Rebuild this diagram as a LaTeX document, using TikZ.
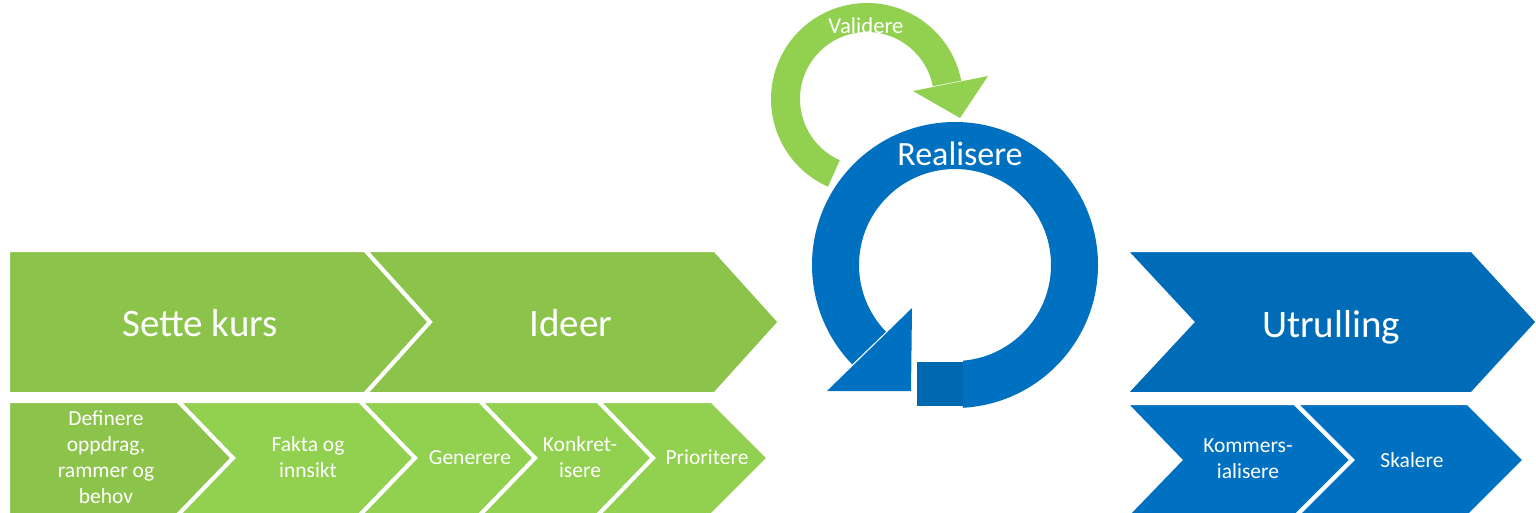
\documentclass[tikz,border=0pt]{standalone}
\usepackage{fontspec}
\setmainfont{Carlito}
\usetikzlibrary{calc}
\definecolor{kursgreen}{RGB}{140,195,75}
\definecolor{idegreen}{RGB}{146,208,80}
\definecolor{realblue}{RGB}{0,112,192}
\definecolor{rullblue}{RGB}{0,108,183}
\definecolor{tailblue}{RGB}{0,104,177}
\tikzset{
  chev/.style={draw=white, line width=4pt},
  bigtxt/.style={text=white, anchor=base, font=\fontsize{39}{44}\selectfont},
  smalltxt/.style={text=white, align=center, font=\fontsize{21.5}{26}\selectfont},
}

\begin{document}
\begin{tikzpicture}[x=1pt, y=-1pt]
\useasboundingbox (0,0) rectangle (1536,512);
% faser
\filldraw[chev, fill=kursgreen] (8,250) -- (365,250) -- (430,322) -- (365,394) -- (8,394) -- cycle;
\filldraw[chev, fill=kursgreen] (365,250) -- (715,250) -- (780,322) -- (715,394) -- (365,394) -- (430,322) -- cycle;
\filldraw[chev, fill=rullblue] (1125,250) -- (1472,250) -- (1538,322) -- (1472,394) -- (1125,394) -- (1192,322) -- cycle;
% steg
\filldraw[chev, fill=kursgreen] (8,401) -- (178,401) -- (233,458) -- (178,515) -- (8,515) -- cycle;
\filldraw[chev, fill=idegreen] (178,401) -- (360,401) -- (415,458) -- (360,515) -- (178,515) -- (233,458) -- cycle;
\filldraw[chev, fill=idegreen] (360,401) -- (480,401) -- (535,458) -- (480,515) -- (360,515) -- (415,458) -- cycle;
\filldraw[chev, fill=idegreen] (480,401) -- (598,401) -- (653,458) -- (598,515) -- (480,515) -- (535,458) -- cycle;
\filldraw[chev, fill=idegreen] (598,401) -- (712,401) -- (769,458) -- (712,515) -- (598,515) -- (653,458) -- cycle;
\filldraw[chev, fill=realblue] (1125,403) -- (1295,403) -- (1352,460) -- (1295,517) -- (1125,517) -- (1180,460) -- cycle;
\filldraw[chev, fill=realblue] (1295,403) -- (1468,403) -- (1525,460) -- (1468,517) -- (1295,517) -- (1352,460) -- cycle;
% sirkler
\coordinate (gc) at (867,99);
\coordinate (bc) at (955,265);
\fill[idegreen] ($(gc)+(114:96)$) arc[start angle=114, end angle=349, radius=96]
  -- ($(gc)+(349:67)$) arc[start angle=349, end angle=114, radius=67] -- cycle;
\fill[idegreen] (913,91) -- (988,76) -- (960,118) -- cycle;
\fill[realblue] ($(bc)+(86.8:143)$) arc[start angle=86.8, end angle=-224, radius=143]
  -- ($(bc)+(136:96)$) arc[start angle=-224, end angle=85.2, radius=96] -- cycle;
\fill[realblue] (912,308) -- (827,391) -- (911,391) -- cycle;
\fill[tailblue] (917,362) rectangle (963,406);
% tekst
\node[bigtxt] (kurs) at (200,336) {Sette kurs};
\node[bigtxt] (ideer) at (571,336) {Ideer};
\node[bigtxt] (utrull) at (1331,337) {Utrulling};
\node[smalltxt] (definere) at (106,457) {Definere\\oppdrag,\\rammer og\\behov};
\node[smalltxt] (fakta) at (308,457) {Fakta og\\innsikt};
\node[smalltxt, anchor=base] (generere) at (470,464) {Generere};
\node[smalltxt] (konkret) at (580,457) {Konkret-\\isere};
\node[smalltxt, anchor=base] (prior) at (707,464) {Prioritere};
\node[smalltxt] (kommers) at (1248,459) {Kommers-\\ialisere};
\node[smalltxt, anchor=base] (skalere) at (1412,467) {Skalere};
\node[text=white, anchor=base, font=\fontsize{34}{40}\selectfont] (realisere) at (960,165) {Realisere};
\node[text=white, anchor=base, font=\fontsize{22.7}{27}\selectfont] (validere) at (866,33) {Validere};
\end{tikzpicture}
\end{document}
